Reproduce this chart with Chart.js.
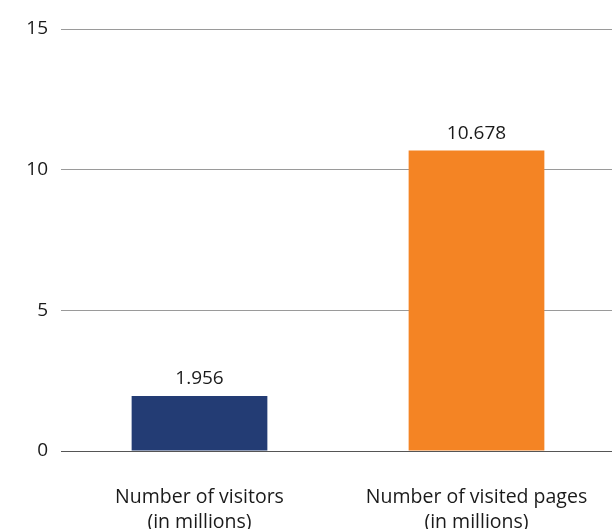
<!DOCTYPE html>
<html>
<head>
<meta charset="utf-8">
<script src="https://cdn.jsdelivr.net/npm/chart.js@4/dist/chart.umd.min.js"></script>
<style>
  html, body { margin: 0; padding: 0; background: #fff; overflow: hidden; }
  #wrap { width: 615px; height: 529px; position: relative; }
</style>
</head>
<body>
<div id="wrap"><canvas id="chart"></canvas></div>
<script>
// data
const categories = [
  ['Number of visitors', '(in millions)'],
  ['Number of visited pages', '(in millions)']
];
const values = [1.956, 10.678];
const valueLabels = ['1.956', '10.678'];
const barColors = ['#233c74', '#f48424'];
const yTicks = [0, 5, 10, 15];

const fontFamily = '"Open Sans", "Noto Sans", sans-serif';

// value labels above bars
const valueLabelPlugin = {
  id: 'valueLabels',
  afterDatasetsDraw(chart) {
    const ctx = chart.ctx;
    const meta = chart.getDatasetMeta(0);
    ctx.save();
    ctx.font = '19px ' + fontFamily;
    ctx.fillStyle = '#1a1a1a';
    ctx.textAlign = 'center';
    ctx.textBaseline = 'alphabetic';
    meta.data.forEach((bar, i) => {
      ctx.fillText(valueLabels[i], bar.x, bar.y - 12);
    });
    ctx.restore();
  }
};

new Chart(document.getElementById('chart'), {
  type: 'bar',
  data: {
    labels: categories,
    datasets: [{
      data: values,
      backgroundColor: barColors,
      barPercentage: 0.49,
      categoryPercentage: 1.0,
      borderWidth: 0
    }]
  },
  options: {
    responsive: true,
    maintainAspectRatio: false,
    animation: false,
    layout: { padding: { top: 29, right: 0, left: 0, bottom: 0 } },
    plugins: {
      legend: { display: false },
      tooltip: { enabled: false }
    },
    scales: {
      x: {
        grid: { display: false },
        border: { display: false },
        ticks: {
          color: '#1a1a1a',
          font: { family: fontFamily, size: 19.5, lineHeight: 1.28 },
          padding: 26,
          maxRotation: 0
        },
        afterFit(scale) { scale.height = 78; }
      },
      y: {
        min: 0,
        max: 15,
        afterBuildTicks(scale) { scale.ticks = yTicks.map(v => ({ value: v })); },
        grid: {
          drawTicks: false,
          color: ctx => ctx.tick && ctx.tick.value === 0 ? '#555' : '#9a9a9a',
          lineWidth: 1
        },
        border: { display: false },
        ticks: {
          color: '#1a1a1a',
          font: { family: fontFamily, size: 19 },
          padding: 13
        },
        afterFit(scale) { scale.width = 61; }
      }
    }
  },
  plugins: [valueLabelPlugin]
});
</script>
</body>
</html>
